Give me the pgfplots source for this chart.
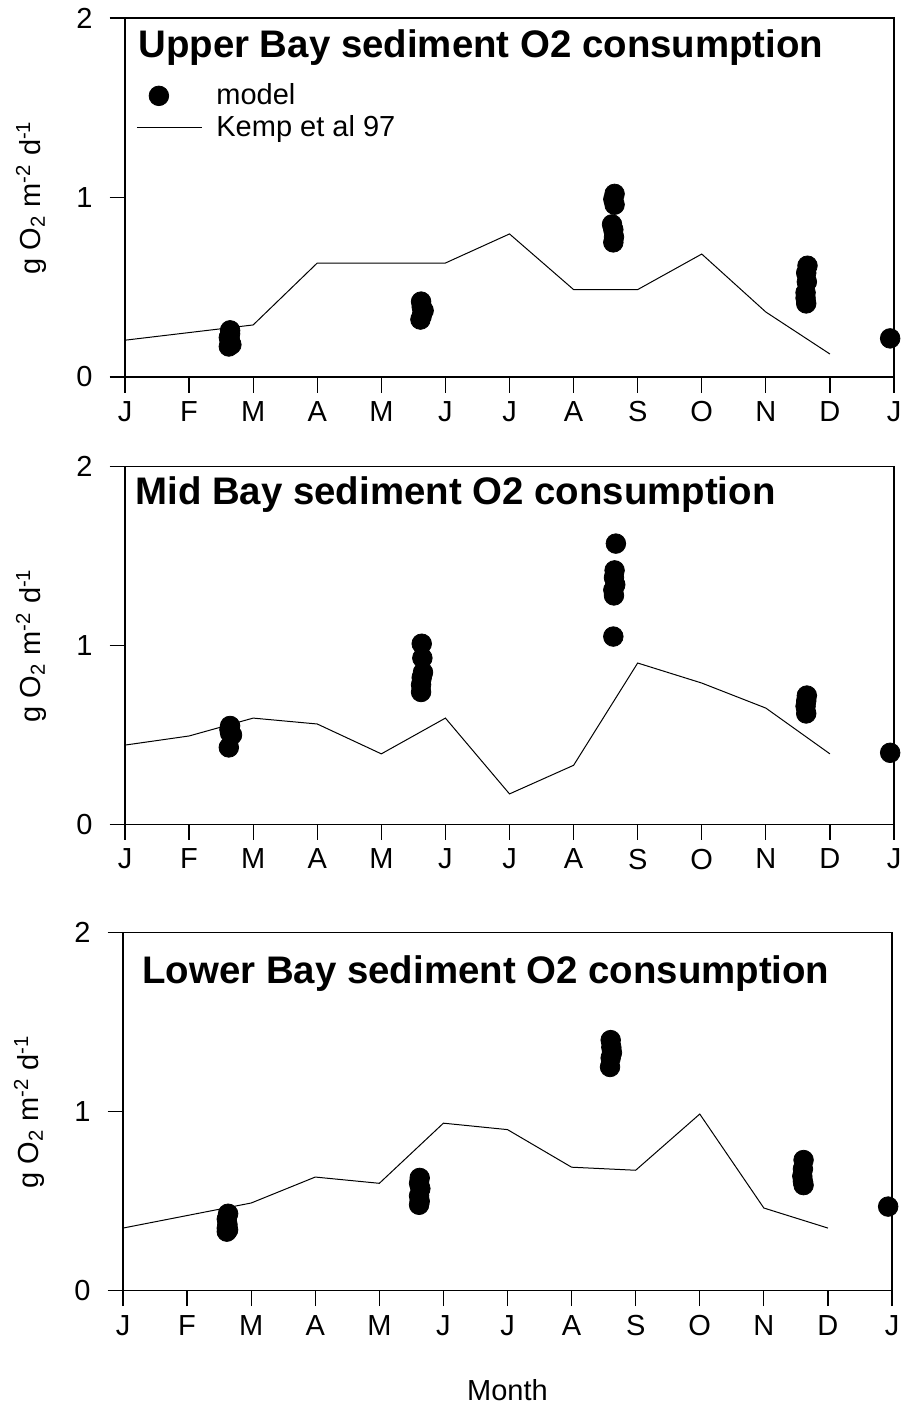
\documentclass[border=0pt]{standalone}
\usepackage{fontspec}
\setmainfont{Liberation Sans}
\usepackage{pgfplots}
\pgfplotsset{compat=1.18}
\pgfplotsset{
 baystyle/.style={
  scale only axis, width=384.5pt,
  xmin=0,xmax=12,ymin=0,ymax=2,
  xtick={0,...,12}, xticklabels={J,F,M,A,M,J,J,A,S,O,N,D,J},
  ytick={0,1,2},
  tick align=outside, xtick pos=bottom, ytick pos=left,
  major tick length=7.75pt,
  axis line style={line width=0.6pt},
  every tick/.style={black,line width=0.6pt},
  tick label style={font=\fontsize{14.5}{17}\selectfont},
  yticklabel style={xshift=-5pt},
  xticklabel style={yshift=-1pt},
  /pgf/number format/assume math mode=true,
  ylabel={g O\textsubscript{2} m\textsuperscript{-2} d\textsuperscript{-1}},
  ylabel style={at={(axis description cs:-0.122,0.5)},anchor=center,font=\fontsize{14.5}{17}\selectfont},
  clip=false,
 },
 model/.style={only marks, mark=*, mark size=4.9pt, black},
 kemp/.style={black, line width=0.5pt, mark=none},
 modellegend/.style={legend image code/.code={\draw[##1] plot coordinates {(11pt,0pt)}; \path (0pt,0pt) (37.5pt,0pt);}},
 kemplegend/.style={legend image code/.code={\draw[##1] (0pt,0pt) -- (32.5pt,0pt); \path (37.5pt,0pt);}},
}
\begin{document}
\begin{tikzpicture}
\useasboundingbox (0,0) rectangle (451.5pt,-703pt);
% Upper
\begin{axis}[baystyle, height=179.5pt, at={(62.5pt,-188.5pt)}, anchor=south west,
  legend style={at={(axis description cs:0.0065,0.84)}, anchor=north west, draw=none, fill=none,
   font=\fontsize{14.5}{17}\selectfont, row sep=0pt},
  legend cell align=left]
\addplot[model, modellegend] coordinates {
(1.62,0.17)(1.66,0.18)(1.64,0.20)(1.62,0.22)(1.64,0.24)(1.64,0.26)
(4.61,0.32)(4.63,0.34)(4.66,0.37)(4.63,0.39)(4.62,0.42)
(7.64,1.02)(7.62,0.99)(7.64,0.96)(7.60,0.85)(7.62,0.82)(7.63,0.78)(7.62,0.75)
(10.65,0.62)(10.63,0.58)(10.64,0.53)(10.62,0.47)(10.62,0.44)(10.63,0.41)
(11.94,0.215)};
\addlegendentry{model}
\addplot[kemp, kemplegend] coordinates {
(0,0.205)(2,0.29)(3,0.635)(5,0.635)(6,0.797)(7,0.487)(8,0.487)(9,0.685)(10,0.362)(11,0.128)};
\addlegendentry{Kemp et al 97}
\node[anchor=base west, inner sep=0pt, font=\bfseries\fontsize{19.2}{22}\selectfont] at (axis description cs:0.0169,0.891) {Upper Bay sediment O2 consumption};
\end{axis}
% Mid
\begin{axis}[baystyle, height=178.8pt, at={(62.5pt,-412.15pt)}, anchor=south west]
\addplot[model] coordinates {
(1.64,0.55)(1.63,0.53)(1.67,0.50)(1.64,0.51)(1.62,0.43)
(4.63,1.01)(4.64,0.93)(4.65,0.85)(4.63,0.82)(4.62,0.78)(4.62,0.74)
(7.66,1.57)(7.64,1.42)(7.63,1.38)(7.65,1.34)(7.62,1.31)(7.63,1.28)(7.62,1.05)
(10.64,0.72)(10.63,0.69)(10.62,0.66)(10.63,0.62)
(11.94,0.40)};
\addplot[kemp] coordinates {
(0,0.443)(1,0.494)(2,0.594)(3,0.561)(4,0.394)(5,0.594)(6,0.17)(7,0.33)(8,0.902)(9,0.79)(10,0.65)(11,0.394)};
\node[anchor=base west, inner sep=0pt, font=\bfseries\fontsize{19.2}{22}\selectfont] at (axis description cs:0.013,0.893) {Mid Bay sediment O2 consumption};
\end{axis}
% Lower
\begin{axis}[baystyle, height=179pt, at={(61.5pt,-645.35pt)}, anchor=south west,
  xlabel={Month}, xlabel style={at={(axis description cs:0.5,-0.308)}, anchor=base, font=\fontsize{14.5}{17}\selectfont}]
\addplot[model] coordinates {
(1.64,0.43)(1.62,0.40)(1.63,0.37)(1.62,0.35)(1.64,0.34)(1.62,0.33)
(4.63,0.63)(4.62,0.60)(4.64,0.57)(4.62,0.53)(4.63,0.50)(4.62,0.48)
(7.61,1.40)(7.62,1.36)(7.63,1.33)(7.61,1.30)(7.60,1.25)
(10.62,0.73)(10.61,0.68)(10.60,0.64)(10.61,0.61)(10.62,0.59)
(11.94,0.47)};
\addplot[kemp] coordinates {
(0,0.35)(2,0.49)(3,0.635)(4,0.60)(5,0.936)(6,0.90)(7,0.69)(8,0.673)(9,0.987)(10,0.462)(11,0.35)};
\node[anchor=base west, inner sep=0pt, font=\bfseries\fontsize{19.2}{22}\selectfont] at (axis description cs:0.0247,0.8595) {Lower Bay sediment O2 consumption};
\end{axis}
\end{tikzpicture}
\end{document}
